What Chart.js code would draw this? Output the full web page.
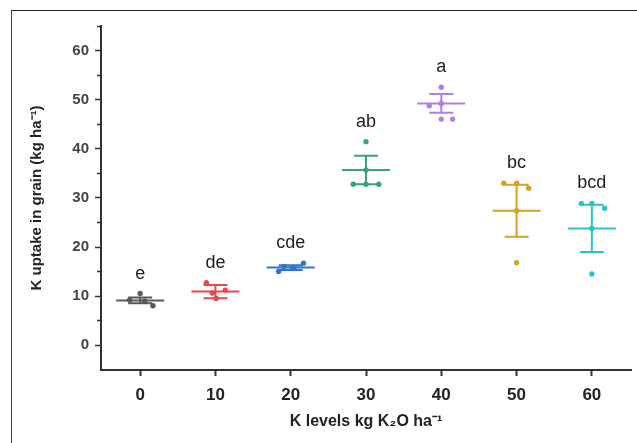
<!DOCTYPE html>
<html>
<head>
<meta charset="utf-8">
<script src="https://cdn.jsdelivr.net/npm/chart.js@4.4.1/dist/chart.umd.min.js"></script>
<style>
  html, body { margin: 0; padding: 0; background: #fff; }
  #wrap { position: relative; width: 637px; height: 443px; overflow: hidden; }
  #frame { position: absolute; left: 11px; top: 10px; width: 700px; height: 500px;
           border-left: 1px solid #444; border-top: 1px solid #222; pointer-events: none; }
</style>
</head>
<body>
<div id="wrap">
  <canvas id="myChart" width="637" height="443"></canvas>
  <div id="frame"></div>
</div>
<script>
const levels = [0, 10, 20, 30, 40, 50, 60];
const means = [9.1, 10.9, 15.8, 35.7, 49.3, 27.4, 23.8];
const errors = [0.6, 1.35, 0.5, 2.9, 1.9, 5.3, 4.8];
const letters = ['e', 'de', 'cde', 'ab', 'a', 'bc', 'bcd'];
const replicates = [
    [10.5, 9.2, 9.0, 8.0],
    [12.7, 11.2, 10.6, 9.5],
    [16.7, 16.0, 15.6, 15.0],
    [41.5, 35.7, 32.8, 32.8, 32.8],
    [52.6, 49.3, 48.8, 46.1, 46.1],
    [33.0, 33.0, 32.0, 27.4, 16.8],
    [28.9, 28.9, 27.9, 23.8, 14.5]
];
const yTicks = [0, 10, 20, 30, 40, 50, 60];
const yMinorTicks = [5, 15, 25, 35, 45, 55, 65];

// styling / layout
const colors = ['#5a5a5a', '#e5484d', '#2f74d0', '#36a477', '#b27ee3', '#d2a229', '#2cc3c6'];
const jitter = [
    [0, -1.4, 0.6, 1.7],
    [-1.2, 1.3, -0.4, 0.1],
    [1.7, -0.9, 0.4, -1.6],
    [0, 0, -1.7, 0, 1.7],
    [0, 0, -1.6, 0, 1.5],
    [-1.7, 0, 1.6, 0, 0],
    [-1.4, 0, 1.7, 0, 0]
];
const fontFamily = '"Liberation Sans", Arial, sans-serif';

const datasets = levels.map((lv, i) => ({
    label: String(lv),
    data: replicates[i].map((v, j) => ({ x: lv + jitter[i][j], y: v })),
    backgroundColor: colors[i],
    borderWidth: 0,
    pointRadius: 2.7
}));

const errorBars = {
    id: 'errorBars',
    beforeDatasetsDraw(chart) {
        const { ctx, scales: { x, y } } = chart;
        ctx.save();
        ctx.lineWidth = 2;
        levels.forEach((lv, i) => {
            const px = x.getPixelForValue(lv);
            const pm = y.getPixelForValue(means[i]);
            const pHi = y.getPixelForValue(means[i] + errors[i]);
            const pLo = y.getPixelForValue(means[i] - errors[i]);
            ctx.strokeStyle = colors[i];
            ctx.beginPath();
            ctx.moveTo(px - 24, pm); ctx.lineTo(px + 24, pm);
            ctx.moveTo(px, pHi); ctx.lineTo(px, pLo);
            ctx.moveTo(px - 12, pHi); ctx.lineTo(px + 12, pHi);
            ctx.moveTo(px - 12, pLo); ctx.lineTo(px + 12, pLo);
            ctx.stroke();
        });
        ctx.restore();
    },
    afterDatasetsDraw(chart) {
        const { ctx, scales: { x, y } } = chart;
        ctx.save();
        ctx.fillStyle = '#1e1e1e';
        ctx.font = '18px ' + fontFamily;
        ctx.textAlign = 'center';
        ctx.textBaseline = 'middle';
        levels.forEach((lv, i) => {
            const top = Math.max(...replicates[i], means[i] + errors[i]);
            ctx.fillText(letters[i], x.getPixelForValue(lv), y.getPixelForValue(top) - 20);
        });
        // minor ticks on the y axis
        ctx.strokeStyle = '#333';
        ctx.lineWidth = 1.5;
        ctx.beginPath();
        yMinorTicks.forEach(v => {
            const py = y.getPixelForValue(v);
            ctx.moveTo(chart.chartArea.left - 4, py);
            ctx.lineTo(chart.chartArea.left, py);
        });
        ctx.stroke();
        ctx.restore();
    }
};

const ctx = document.getElementById('myChart').getContext('2d');
new Chart(ctx, {
    type: 'scatter',
    data: { datasets: datasets },
    plugins: [errorBars],
    options: {
        responsive: false,
        animation: false,
        layout: { padding: { left: 12, top: 26, right: 6, bottom: 0 } },
        plugins: { legend: { display: false }, tooltip: { enabled: false } },
        scales: {
            x: {
                type: 'linear',
                min: -5.2,
                max: 65.2,
                afterBuildTicks: scale => { scale.ticks = levels.map(v => ({ value: v })); },
                afterFit: scale => { scale.height = 73; },
                grid: { drawOnChartArea: false, tickLength: 6, tickColor: '#333', tickWidth: 2 },
                border: { color: '#333', width: 2 },
                ticks: {
                    padding: 9,
                    color: '#222',
                    font: { family: fontFamily, size: 17, weight: 'bold' }
                },
                title: {
                    display: true,
                    text: 'K levels kg K\u2082O ha\u207B\u00B9',
                    color: '#222',
                    padding: { top: 0, bottom: 12 },
                    font: { family: fontFamily, size: 16, weight: 'bold' }
                }
            },
            y: {
                min: -5.1,
                max: 65.1,
                afterBuildTicks: scale => { scale.ticks = yTicks.map(v => ({ value: v })); },
                afterFit: scale => { scale.width = 89; },
                grid: { drawOnChartArea: false, tickLength: 6, tickColor: '#333', tickWidth: 1.5 },
                border: { color: '#333', width: 2 },
                ticks: {
                    padding: 6,
                    color: '#444',
                    font: { family: fontFamily, size: 15, weight: 'bold' }
                },
                title: {
                    display: true,
                    text: 'K uptake in grain (kg ha\u207B\u00B9)',
                    color: '#222',
                    padding: { top: 16, bottom: 0 },
                    font: { family: fontFamily, size: 15, weight: 'bold' }
                }
            }
        }
    }
});
</script>
</body>
</html>
